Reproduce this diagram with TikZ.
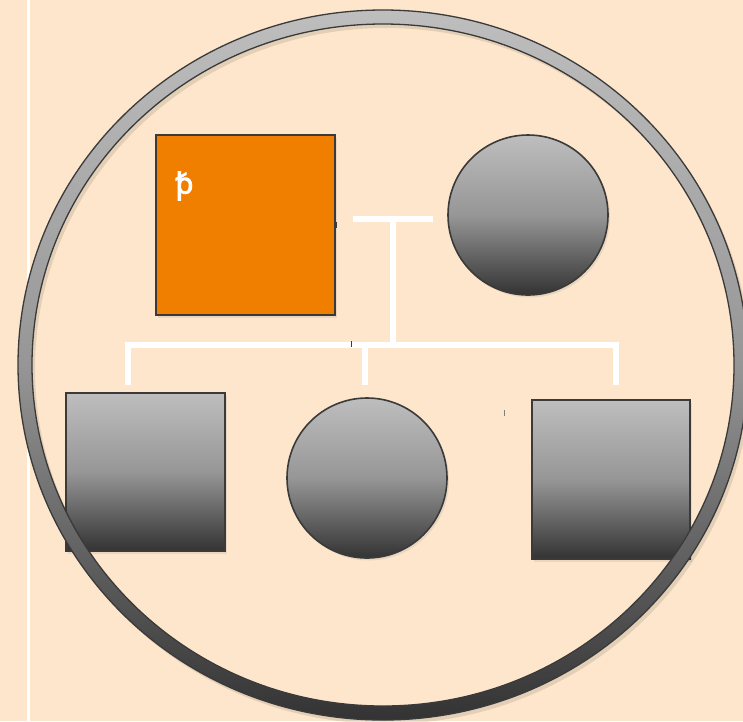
\documentclass[tikz,border=0pt]{standalone}
\usepackage{fontspec}
\newfontfamily\glyphfont{Noto Sans}[FakeBold=3]
\usetikzlibrary{shadows,calc}
\definecolor{bg}{HTML}{FDE6CB}
\definecolor{orng}{HTML}{F07F00}
\definecolor{gtop}{HTML}{BEBEBE}
\definecolor{gmid}{HTML}{969696}
\definecolor{gbot}{HTML}{333333}
\definecolor{edgec}{HTML}{3A3A3A}
\begin{document}
\begin{tikzpicture}[x=1pt,y=-1pt,
  shp/.style={draw=edgec, line width=1.6pt, inner sep=0pt,
    drop shadow={opacity=0.15, shadow xshift=2pt, shadow yshift=-2.5pt}},
  grad/.style={top color=gtop, bottom color=gbot, middle color=gmid},
  link/.style={draw=white, line width=5.5pt, line join=miter},
  linkshadow/.style={draw=black, opacity=0.07, line width=6pt, line join=miter},
  tick/.style={draw=edgec, line width=0.9pt}]
\useasboundingbox (0,0) rectangle (743,721);
\fill[bg] (0,0) rectangle (743,721);
\draw[white, line width=3pt] (28.5,0) -- (28.5,721);

% shapes
\node[shp, rectangle, fill=orng, minimum width=179pt, minimum height=180pt] (father) at (245.5,225) {};
\node[shp, grad, circle, minimum size=160pt] (mother) at (528,215) {};
\node[shp, grad, rectangle, minimum width=159pt, minimum height=158pt] (child1) at (145.5,472) {};
\node[shp, grad, circle, minimum size=160pt] (child2) at (367,478) {};
\node[shp, grad, rectangle, minimum width=158pt, minimum height=159pt] (child3) at (611,479.5) {};

\node[text=white, font=\glyphfont\fontsize{29}{29}\selectfont, inner sep=0pt] (lbl) at (184.5,186) {ꝥ};

% connector coordinates
\coordinate (mL) at ($(father.east)+(17,-6)$);
\coordinate (mR) at ($(mother.west)+(-14,4)$);
\coordinate (mM) at (393,219);
\coordinate (sM) at (393,345);
\coordinate (sL) at (128,345);
\coordinate (sR) at (616,345);
\coordinate (dL) at (128,385);
\coordinate (cT) at (365,345);
\coordinate (dC) at (365,385);
\coordinate (dR) at (616,385);

\begin{scope}[shift={(1.5,2)}]
\draw[linkshadow] (mL) -- (mR);
\draw[linkshadow] (mM) -- (sM);
\draw[linkshadow] (dL) |- (sR) -- (dR);
\draw[linkshadow] (cT) -- (dC);
\end{scope}
\draw[link] (mL) -- (mR);
\draw[link] (mM) -- (sM);
\draw[link] (dL) |- (sR) -- (dR);
\draw[link] (cT) -- (dC);

% small marks
\draw[tick] (351,341) -- (351,347);
\draw[draw=gray, line width=1pt] (504,410) -- (504,416);
\draw[tick] (336.5,222) -- (336.5,228);

% ring shadow
\fill[black, opacity=0.10, even odd rule] (386,369) ellipse [x radius=365, y radius=355] (386,369) ellipse [x radius=351, y radius=341];
% ring
\shade[top color=gtop, bottom color=gbot, middle color=gmid, even odd rule] (383,365) ellipse [x radius=365, y radius=355] (383,365) ellipse [x radius=351, y radius=341];
\draw[edgec, line width=1.3pt] (383,365) ellipse [x radius=365, y radius=355];
\draw[edgec, line width=1.3pt] (383,365) ellipse [x radius=351, y radius=341];
\end{tikzpicture}
\end{document}
